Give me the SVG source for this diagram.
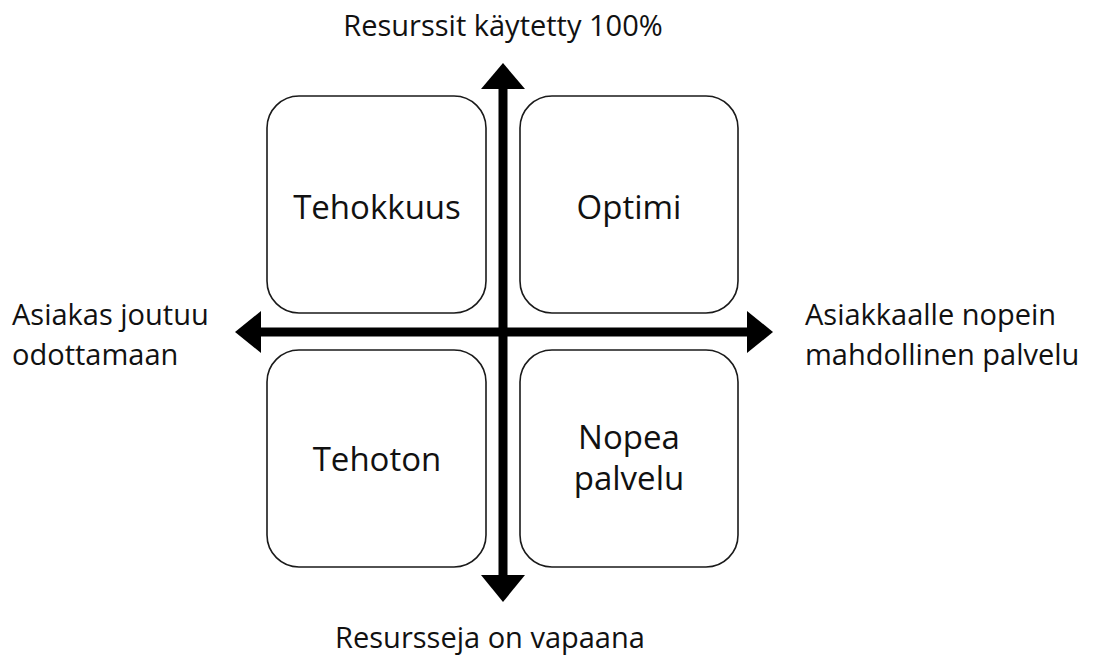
<svg xmlns="http://www.w3.org/2000/svg" width="1098" height="659" viewBox="0 0 1098 659">
  <style>
    .box { fill: #ffffff; stroke: #1a1a1a; stroke-width: 1.6; }
    .axis { stroke: #000000; stroke-width: 9; fill: none; }
    .head { fill: #000000; }
    .lbl { font-family: "Open Sans", "Noto Sans", sans-serif; fill: #111111; }
    .big { font-size: 33px; text-anchor: middle; }
    .side { font-size: 29px; }
  </style>
  <rect width="1098" height="659" fill="#ffffff"/>

  <g id="q-tehokkuus">
    <rect class="box" x="267" y="96" width="219" height="217" rx="32"/>
    <text class="lbl big" x="377" y="219">Tehokkuus</text>
  </g>
  <g id="q-optimi">
    <rect class="box" x="520" y="96" width="218" height="217" rx="32"/>
    <text class="lbl big" x="629" y="219">Optimi</text>
  </g>
  <g id="q-tehoton">
    <rect class="box" x="267" y="350" width="219" height="217" rx="32"/>
    <text class="lbl big" x="377" y="471">Tehoton</text>
  </g>
  <g id="q-nopea">
    <rect class="box" x="520" y="350" width="218" height="217" rx="32"/>
    <text class="lbl big" x="629" y="449">Nopea</text>
    <text class="lbl big" x="629" y="490">palvelu</text>
  </g>

  <g id="axes">
    <line class="axis" x1="503" y1="86" x2="503" y2="578"/>
    <line class="axis" x1="258" y1="332" x2="750" y2="332"/>
    <polygon class="head" points="503,63 525,89 481,89"/>
    <polygon class="head" points="503,602 525,575 481,575"/>
    <polygon class="head" points="773,332 747,311 747,353"/>
    <polygon class="head" points="235,332 261,311 261,353"/>
  </g>

  <g id="axis-labels">
    <text class="lbl side" x="503" y="36" text-anchor="middle">Resurssit käytetty 100%</text>
    <text class="lbl side" x="490" y="648" text-anchor="middle">Resursseja on vapaana</text>
    <text class="lbl side" x="12" y="325">Asiakas joutuu</text>
    <text class="lbl side" x="12" y="365">odottamaan</text>
    <text class="lbl side" x="805" y="325">Asiakkaalle nopein</text>
    <text class="lbl side" x="805" y="365">mahdollinen palvelu</text>
  </g>
</svg>
